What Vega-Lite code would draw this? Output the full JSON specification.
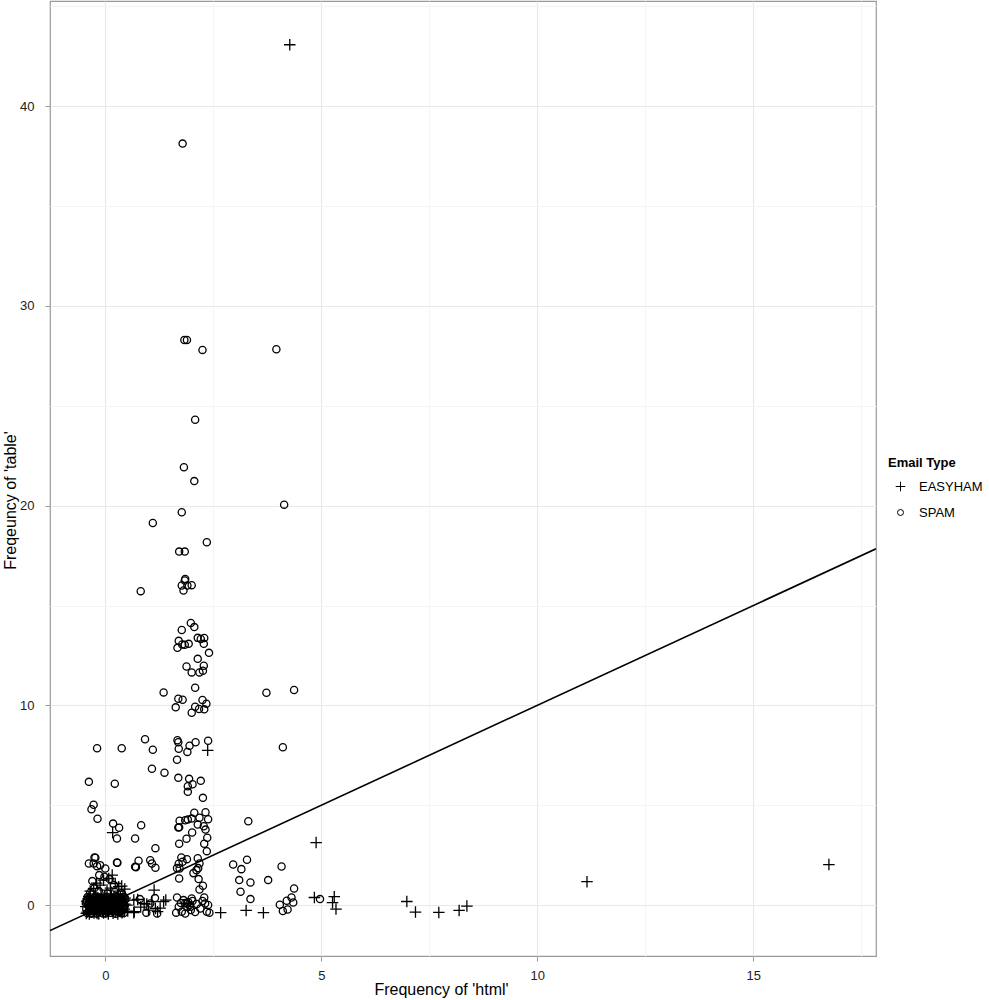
{
  "$schema": "https://vega.github.io/schema/vega-lite/v6.json",
  "autosize": "none",
  "padding": {"left": 50, "top": 1, "right": 113, "bottom": 44},
  "width": 826,
  "height": 955,
  "background": "white",
  "config": {
    "font": "Liberation Sans",
    "view": {"stroke": "#999999", "strokeWidth": 1.2},
    "axis": {
      "domain": false,
      "labelFont": "Liberation Sans",
      "labelFontSize": 13,
      "labelColor": "#222222",
      "titleFont": "Liberation Sans",
      "titleFontSize": 16,
      "titleFontWeight": "normal",
      "titleColor": "#000000",
      "tickColor": "#999999",
      "tickWidth": 1,
      "tickSize": 5,
      "gridWidth": 1
    },
    "legend": {
      "titleFont": "Liberation Sans",
      "labelFont": "Liberation Sans"
    }
  },
  "datasets": {
    "fit": [{"x": -1.28, "y": -1.28}, {"x": 17.84, "y": 17.84}],
    "emails": [
      {"x": 4.27, "y": 43.08, "type": "EASYHAM"},
      {"x": 2.37, "y": 7.75, "type": "EASYHAM"},
      {"x": 4.88, "y": 3.13, "type": "EASYHAM"},
      {"x": 4.84, "y": 0.38, "type": "EASYHAM"},
      {"x": 5.30, "y": 0.42, "type": "EASYHAM"},
      {"x": 5.26, "y": 0.12, "type": "EASYHAM"},
      {"x": 5.34, "y": -0.2, "type": "EASYHAM"},
      {"x": 6.98, "y": 0.18, "type": "EASYHAM"},
      {"x": 7.18, "y": -0.35, "type": "EASYHAM"},
      {"x": 7.72, "y": -0.37, "type": "EASYHAM"},
      {"x": 8.19, "y": -0.27, "type": "EASYHAM"},
      {"x": 8.37, "y": -0.05, "type": "EASYHAM"},
      {"x": 11.15, "y": 1.17, "type": "EASYHAM"},
      {"x": 16.75, "y": 2.03, "type": "EASYHAM"},
      {"x": 2.67, "y": -0.38, "type": "EASYHAM"},
      {"x": 3.26, "y": -0.27, "type": "EASYHAM"},
      {"x": 3.66, "y": -0.38, "type": "EASYHAM"},
      {"x": 0.17, "y": 3.63, "type": "EASYHAM"},
      {"x": 0.66, "y": 0.25, "type": "EASYHAM"},
      {"x": 0.75, "y": 0.28, "type": "EASYHAM"},
      {"x": 0.90, "y": 0.08, "type": "EASYHAM"},
      {"x": 0.96, "y": 0.05, "type": "EASYHAM"},
      {"x": 1.08, "y": 0.17, "type": "EASYHAM"},
      {"x": 1.16, "y": -0.17, "type": "EASYHAM"},
      {"x": 1.21, "y": -0.33, "type": "EASYHAM"},
      {"x": 1.35, "y": 0.17, "type": "EASYHAM"},
      {"x": 1.40, "y": 0.25, "type": "EASYHAM"},
      {"x": 0.66, "y": -0.38, "type": "EASYHAM"},
      {"x": 1.13, "y": 0.75, "type": "EASYHAM"},
      {"x": 1.27, "y": -0.15, "type": "EASYHAM"},
      {"x": 1.0, "y": -0.25, "type": "EASYHAM"},
      {"x": 0.82, "y": -0.1, "type": "EASYHAM"},
      {"x": 0.67, "y": -0.33, "type": "EASYHAM"},
      {"x": 0.5, "y": 0.0, "type": "EASYHAM"},
      {"x": 0.52, "y": -0.3, "type": "EASYHAM"},
      {"x": -0.12, "y": 1.0, "type": "EASYHAM"},
      {"x": -0.04, "y": 1.25, "type": "EASYHAM"},
      {"x": 0.08, "y": 1.33, "type": "EASYHAM"},
      {"x": 0.16, "y": 1.5, "type": "EASYHAM"},
      {"x": 0.23, "y": 1.08, "type": "EASYHAM"},
      {"x": 0.31, "y": 0.92, "type": "EASYHAM"},
      {"x": 0.38, "y": 0.95, "type": "EASYHAM"},
      {"x": -0.27, "y": 0.83, "type": "EASYHAM"},
      {"x": 0.04, "y": 0.75, "type": "EASYHAM"},
      {"x": -0.2, "y": 1.1, "type": "EASYHAM"},
      {"x": 0.12, "y": 0.85, "type": "EASYHAM"},
      {"x": 0.3, "y": 0.7, "type": "EASYHAM"},
      {"x": -0.35, "y": 0.7, "type": "EASYHAM"},
      {"x": 0.45, "y": 0.8, "type": "EASYHAM"},
      {"x": -0.37, "y": -0.45, "type": "EASYHAM"},
      {"x": -0.26, "y": -0.4, "type": "EASYHAM"},
      {"x": -0.15, "y": -0.44, "type": "EASYHAM"},
      {"x": -0.04, "y": -0.39, "type": "EASYHAM"},
      {"x": 0.07, "y": -0.45, "type": "EASYHAM"},
      {"x": 0.18, "y": -0.41, "type": "EASYHAM"},
      {"x": 0.29, "y": -0.44, "type": "EASYHAM"},
      {"x": 0.39, "y": -0.38, "type": "EASYHAM"},
      {"x": -0.39, "y": -0.28, "type": "EASYHAM"},
      {"x": -0.28, "y": -0.3, "type": "EASYHAM"},
      {"x": -0.17, "y": -0.26, "type": "EASYHAM"},
      {"x": -0.06, "y": -0.31, "type": "EASYHAM"},
      {"x": 0.05, "y": -0.27, "type": "EASYHAM"},
      {"x": 0.16, "y": -0.3, "type": "EASYHAM"},
      {"x": 0.26, "y": -0.25, "type": "EASYHAM"},
      {"x": 0.37, "y": -0.29, "type": "EASYHAM"},
      {"x": -0.45, "y": -0.08, "type": "EASYHAM"},
      {"x": -0.36, "y": -0.1, "type": "EASYHAM"},
      {"x": -0.25, "y": -0.06, "type": "EASYHAM"},
      {"x": -0.13, "y": -0.11, "type": "EASYHAM"},
      {"x": -0.02, "y": -0.07, "type": "EASYHAM"},
      {"x": 0.09, "y": -0.1, "type": "EASYHAM"},
      {"x": 0.2, "y": -0.05, "type": "EASYHAM"},
      {"x": 0.3, "y": -0.09, "type": "EASYHAM"},
      {"x": 0.4, "y": -0.06, "type": "EASYHAM"},
      {"x": -0.38, "y": 0.1, "type": "EASYHAM"},
      {"x": -0.27, "y": 0.13, "type": "EASYHAM"},
      {"x": -0.16, "y": 0.09, "type": "EASYHAM"},
      {"x": -0.05, "y": 0.12, "type": "EASYHAM"},
      {"x": 0.06, "y": 0.08, "type": "EASYHAM"},
      {"x": 0.17, "y": 0.13, "type": "EASYHAM"},
      {"x": 0.28, "y": 0.1, "type": "EASYHAM"},
      {"x": 0.39, "y": 0.12, "type": "EASYHAM"},
      {"x": -0.4, "y": 0.31, "type": "EASYHAM"},
      {"x": -0.29, "y": 0.28, "type": "EASYHAM"},
      {"x": -0.18, "y": 0.33, "type": "EASYHAM"},
      {"x": -0.07, "y": 0.29, "type": "EASYHAM"},
      {"x": 0.04, "y": 0.32, "type": "EASYHAM"},
      {"x": 0.15, "y": 0.28, "type": "EASYHAM"},
      {"x": 0.26, "y": 0.33, "type": "EASYHAM"},
      {"x": 0.37, "y": 0.3, "type": "EASYHAM"},
      {"x": 0.46, "y": 0.35, "type": "EASYHAM"},
      {"x": -0.35, "y": 0.5, "type": "EASYHAM"},
      {"x": -0.1, "y": 0.52, "type": "EASYHAM"},
      {"x": 0.12, "y": 0.48, "type": "EASYHAM"},
      {"x": 0.3, "y": 0.5, "type": "EASYHAM"},
      {"x": -0.42, "y": -0.35, "type": "EASYHAM"},
      {"x": -0.32, "y": -0.18, "type": "EASYHAM"},
      {"x": -0.21, "y": -0.35, "type": "EASYHAM"},
      {"x": -0.09, "y": -0.2, "type": "EASYHAM"},
      {"x": 0.01, "y": -0.36, "type": "EASYHAM"},
      {"x": 0.12, "y": -0.19, "type": "EASYHAM"},
      {"x": 0.23, "y": -0.34, "type": "EASYHAM"},
      {"x": 0.34, "y": -0.17, "type": "EASYHAM"},
      {"x": 0.44, "y": -0.33, "type": "EASYHAM"},
      {"x": -0.43, "y": 0.2, "type": "EASYHAM"},
      {"x": -0.33, "y": 0.02, "type": "EASYHAM"},
      {"x": -0.22, "y": 0.19, "type": "EASYHAM"},
      {"x": -0.11, "y": 0.02, "type": "EASYHAM"},
      {"x": 0.0, "y": 0.2, "type": "EASYHAM"},
      {"x": 0.11, "y": 0.01, "type": "EASYHAM"},
      {"x": 0.22, "y": 0.22, "type": "EASYHAM"},
      {"x": 0.33, "y": 0.03, "type": "EASYHAM"},
      {"x": 0.43, "y": 0.21, "type": "EASYHAM"},
      {"x": -0.38, "y": 0.42, "type": "EASYHAM"},
      {"x": -0.24, "y": 0.41, "type": "EASYHAM"},
      {"x": -0.01, "y": 0.43, "type": "EASYHAM"},
      {"x": 0.2, "y": 0.41, "type": "EASYHAM"},
      {"x": 0.41, "y": 0.44, "type": "EASYHAM"},
      {"x": -0.44, "y": -0.42, "type": "EASYHAM"},
      {"x": -0.31, "y": -0.12, "type": "EASYHAM"},
      {"x": -0.19, "y": -0.42, "type": "EASYHAM"},
      {"x": -0.08, "y": 0.05, "type": "EASYHAM"},
      {"x": 0.03, "y": -0.2, "type": "EASYHAM"},
      {"x": 0.14, "y": 0.38, "type": "EASYHAM"},
      {"x": 0.25, "y": -0.14, "type": "EASYHAM"},
      {"x": 0.35, "y": 0.4, "type": "EASYHAM"},
      {"x": 0.45, "y": 0.05, "type": "EASYHAM"},
      {"x": -0.41, "y": 0.05, "type": "EASYHAM"},
      {"x": 0.44, "y": -0.2, "type": "EASYHAM"},
      {"x": 1.79, "y": 38.13, "type": "SPAM"},
      {"x": 1.83, "y": 28.3, "type": "SPAM"},
      {"x": 1.89, "y": 28.3, "type": "SPAM"},
      {"x": 2.25, "y": 27.8, "type": "SPAM"},
      {"x": 3.96, "y": 27.83, "type": "SPAM"},
      {"x": 2.08, "y": 24.3, "type": "SPAM"},
      {"x": 1.82, "y": 21.92, "type": "SPAM"},
      {"x": 2.06, "y": 21.23, "type": "SPAM"},
      {"x": 4.14, "y": 20.05, "type": "SPAM"},
      {"x": 1.77, "y": 19.67, "type": "SPAM"},
      {"x": 1.10, "y": 19.13, "type": "SPAM"},
      {"x": 2.35, "y": 18.17, "type": "SPAM"},
      {"x": 1.71, "y": 17.7, "type": "SPAM"},
      {"x": 1.84, "y": 17.7, "type": "SPAM"},
      {"x": 1.85, "y": 16.33, "type": "SPAM"},
      {"x": 1.84, "y": 16.25, "type": "SPAM"},
      {"x": 1.77, "y": 16.0, "type": "SPAM"},
      {"x": 1.90, "y": 16.0, "type": "SPAM"},
      {"x": 2.0, "y": 16.02, "type": "SPAM"},
      {"x": 1.81, "y": 15.75, "type": "SPAM"},
      {"x": 0.82, "y": 15.72, "type": "SPAM"},
      {"x": 1.98, "y": 14.13, "type": "SPAM"},
      {"x": 2.06, "y": 13.92, "type": "SPAM"},
      {"x": 1.77, "y": 13.77, "type": "SPAM"},
      {"x": 1.70, "y": 13.23, "type": "SPAM"},
      {"x": 1.78, "y": 13.05, "type": "SPAM"},
      {"x": 1.84, "y": 13.03, "type": "SPAM"},
      {"x": 1.93, "y": 13.08, "type": "SPAM"},
      {"x": 1.67, "y": 12.88, "type": "SPAM"},
      {"x": 2.14, "y": 13.38, "type": "SPAM"},
      {"x": 2.21, "y": 13.32, "type": "SPAM"},
      {"x": 2.29, "y": 13.37, "type": "SPAM"},
      {"x": 2.28, "y": 13.08, "type": "SPAM"},
      {"x": 2.40, "y": 12.63, "type": "SPAM"},
      {"x": 2.14, "y": 12.33, "type": "SPAM"},
      {"x": 1.88, "y": 11.95, "type": "SPAM"},
      {"x": 2.28, "y": 11.98, "type": "SPAM"},
      {"x": 2.26, "y": 11.73, "type": "SPAM"},
      {"x": 2.18, "y": 11.65, "type": "SPAM"},
      {"x": 2.0, "y": 11.65, "type": "SPAM"},
      {"x": 2.08, "y": 10.88, "type": "SPAM"},
      {"x": 1.35, "y": 10.65, "type": "SPAM"},
      {"x": 3.73, "y": 10.63, "type": "SPAM"},
      {"x": 4.37, "y": 10.77, "type": "SPAM"},
      {"x": 1.69, "y": 10.33, "type": "SPAM"},
      {"x": 1.79, "y": 10.28, "type": "SPAM"},
      {"x": 1.63, "y": 9.9, "type": "SPAM"},
      {"x": 2.08, "y": 9.93, "type": "SPAM"},
      {"x": 2.17, "y": 9.82, "type": "SPAM"},
      {"x": 2.25, "y": 10.27, "type": "SPAM"},
      {"x": 2.34, "y": 10.08, "type": "SPAM"},
      {"x": 2.29, "y": 9.8, "type": "SPAM"},
      {"x": 2.0, "y": 9.63, "type": "SPAM"},
      {"x": 1.67, "y": 8.25, "type": "SPAM"},
      {"x": 1.69, "y": 8.15, "type": "SPAM"},
      {"x": 2.09, "y": 8.15, "type": "SPAM"},
      {"x": 2.38, "y": 8.23, "type": "SPAM"},
      {"x": 1.95, "y": 7.98, "type": "SPAM"},
      {"x": 1.90, "y": 7.67, "type": "SPAM"},
      {"x": 1.70, "y": 7.83, "type": "SPAM"},
      {"x": 4.11, "y": 7.9, "type": "SPAM"},
      {"x": 1.10, "y": 7.78, "type": "SPAM"},
      {"x": 1.08, "y": 6.83, "type": "SPAM"},
      {"x": 1.37, "y": 6.63, "type": "SPAM"},
      {"x": 1.66, "y": 7.28, "type": "SPAM"},
      {"x": 1.69, "y": 6.37, "type": "SPAM"},
      {"x": 1.94, "y": 6.32, "type": "SPAM"},
      {"x": 2.02, "y": 6.05, "type": "SPAM"},
      {"x": 1.91, "y": 5.95, "type": "SPAM"},
      {"x": 1.91, "y": 5.67, "type": "SPAM"},
      {"x": 2.21, "y": 6.22, "type": "SPAM"},
      {"x": 2.26, "y": 5.37, "type": "SPAM"},
      {"x": 0.92, "y": 8.3, "type": "SPAM"},
      {"x": -0.19, "y": 7.85, "type": "SPAM"},
      {"x": 0.38, "y": 7.85, "type": "SPAM"},
      {"x": -0.38, "y": 6.17, "type": "SPAM"},
      {"x": 0.22, "y": 6.08, "type": "SPAM"},
      {"x": -0.27, "y": 5.02, "type": "SPAM"},
      {"x": -0.32, "y": 4.8, "type": "SPAM"},
      {"x": -0.18, "y": 4.32, "type": "SPAM"},
      {"x": 2.06, "y": 4.62, "type": "SPAM"},
      {"x": 2.32, "y": 4.65, "type": "SPAM"},
      {"x": 2.18, "y": 4.37, "type": "SPAM"},
      {"x": 2.38, "y": 4.3, "type": "SPAM"},
      {"x": 1.72, "y": 4.22, "type": "SPAM"},
      {"x": 1.85, "y": 4.25, "type": "SPAM"},
      {"x": 1.91, "y": 4.28, "type": "SPAM"},
      {"x": 2.0, "y": 4.33, "type": "SPAM"},
      {"x": 1.69, "y": 3.88, "type": "SPAM"},
      {"x": 1.71, "y": 3.9, "type": "SPAM"},
      {"x": 2.14, "y": 4.03, "type": "SPAM"},
      {"x": 2.28, "y": 3.95, "type": "SPAM"},
      {"x": 2.32, "y": 3.78, "type": "SPAM"},
      {"x": 2.01, "y": 3.63, "type": "SPAM"},
      {"x": 1.88, "y": 3.32, "type": "SPAM"},
      {"x": 1.71, "y": 3.07, "type": "SPAM"},
      {"x": 2.29, "y": 3.07, "type": "SPAM"},
      {"x": 2.36, "y": 3.37, "type": "SPAM"},
      {"x": 2.35, "y": 2.7, "type": "SPAM"},
      {"x": 3.31, "y": 4.2, "type": "SPAM"},
      {"x": 1.16, "y": 2.85, "type": "SPAM"},
      {"x": 0.18, "y": 4.08, "type": "SPAM"},
      {"x": 0.32, "y": 3.87, "type": "SPAM"},
      {"x": 0.27, "y": 3.33, "type": "SPAM"},
      {"x": 0.69, "y": 3.33, "type": "SPAM"},
      {"x": 0.83, "y": 4.0, "type": "SPAM"},
      {"x": 1.16, "y": 1.87, "type": "SPAM"},
      {"x": 1.04, "y": 2.25, "type": "SPAM"},
      {"x": 1.08, "y": 2.08, "type": "SPAM"},
      {"x": 1.76, "y": 2.38, "type": "SPAM"},
      {"x": 1.79, "y": 2.17, "type": "SPAM"},
      {"x": 1.89, "y": 2.3, "type": "SPAM"},
      {"x": 1.66, "y": 1.85, "type": "SPAM"},
      {"x": 1.72, "y": 1.83, "type": "SPAM"},
      {"x": 1.70, "y": 2.07, "type": "SPAM"},
      {"x": 2.14, "y": 2.35, "type": "SPAM"},
      {"x": 2.18, "y": 2.08, "type": "SPAM"},
      {"x": 2.11, "y": 1.75, "type": "SPAM"},
      {"x": 2.04, "y": 1.6, "type": "SPAM"},
      {"x": 2.15, "y": 1.85, "type": "SPAM"},
      {"x": 1.71, "y": 1.33, "type": "SPAM"},
      {"x": 2.16, "y": 1.3, "type": "SPAM"},
      {"x": 2.18, "y": 0.78, "type": "SPAM"},
      {"x": 2.26, "y": 0.97, "type": "SPAM"},
      {"x": 2.96, "y": 2.03, "type": "SPAM"},
      {"x": 3.15, "y": 1.8, "type": "SPAM"},
      {"x": 3.28, "y": 2.27, "type": "SPAM"},
      {"x": 3.10, "y": 1.25, "type": "SPAM"},
      {"x": 3.36, "y": 1.13, "type": "SPAM"},
      {"x": 3.13, "y": 0.67, "type": "SPAM"},
      {"x": 3.36, "y": 0.3, "type": "SPAM"},
      {"x": 3.77, "y": 1.25, "type": "SPAM"},
      {"x": 4.08, "y": 1.93, "type": "SPAM"},
      {"x": 4.37, "y": 0.83, "type": "SPAM"},
      {"x": 4.04, "y": 0.02, "type": "SPAM"},
      {"x": 4.11, "y": -0.3, "type": "SPAM"},
      {"x": 4.20, "y": 0.22, "type": "SPAM"},
      {"x": 4.22, "y": -0.22, "type": "SPAM"},
      {"x": 4.31, "y": 0.38, "type": "SPAM"},
      {"x": 4.35, "y": 0.13, "type": "SPAM"},
      {"x": 4.97, "y": 0.3, "type": "SPAM"},
      {"x": -0.38, "y": 2.08, "type": "SPAM"},
      {"x": -0.25, "y": 2.38, "type": "SPAM"},
      {"x": -0.12, "y": 2.0, "type": "SPAM"},
      {"x": 0.0, "y": 1.83, "type": "SPAM"},
      {"x": 0.27, "y": 2.13, "type": "SPAM"},
      {"x": -0.23, "y": 2.37, "type": "SPAM"},
      {"x": -0.27, "y": 2.08, "type": "SPAM"},
      {"x": -0.19, "y": 1.95, "type": "SPAM"},
      {"x": 0.28, "y": 2.12, "type": "SPAM"},
      {"x": 0.69, "y": 1.92, "type": "SPAM"},
      {"x": 0.77, "y": 2.22, "type": "SPAM"},
      {"x": 0.71, "y": 1.9, "type": "SPAM"},
      {"x": -0.14, "y": 1.5, "type": "SPAM"},
      {"x": -0.02, "y": 1.42, "type": "SPAM"},
      {"x": 0.1, "y": 1.3, "type": "SPAM"},
      {"x": -0.3, "y": 1.2, "type": "SPAM"},
      {"x": 0.2, "y": 1.0, "type": "SPAM"},
      {"x": 1.66, "y": 0.38, "type": "SPAM"},
      {"x": 1.70, "y": -0.08, "type": "SPAM"},
      {"x": 1.64, "y": -0.38, "type": "SPAM"},
      {"x": 1.81, "y": 0.25, "type": "SPAM"},
      {"x": 1.89, "y": 0.08, "type": "SPAM"},
      {"x": 1.97, "y": -0.08, "type": "SPAM"},
      {"x": 2.0, "y": 0.33, "type": "SPAM"},
      {"x": 2.12, "y": 0.05, "type": "SPAM"},
      {"x": 2.2, "y": -0.17, "type": "SPAM"},
      {"x": 2.29, "y": 0.38, "type": "SPAM"},
      {"x": 2.31, "y": 0.08, "type": "SPAM"},
      {"x": 2.35, "y": -0.33, "type": "SPAM"},
      {"x": 2.41, "y": -0.38, "type": "SPAM"},
      {"x": 1.77, "y": -0.33, "type": "SPAM"},
      {"x": 1.85, "y": -0.42, "type": "SPAM"},
      {"x": 1.92, "y": 0.15, "type": "SPAM"},
      {"x": 1.95, "y": 0.0, "type": "SPAM"},
      {"x": 1.9, "y": -0.1, "type": "SPAM"},
      {"x": 2.02, "y": 0.2, "type": "SPAM"},
      {"x": 1.98, "y": -0.25, "type": "SPAM"},
      {"x": 1.85, "y": 0.1, "type": "SPAM"},
      {"x": 2.25, "y": 0.2, "type": "SPAM"},
      {"x": 2.38, "y": 0.0, "type": "SPAM"},
      {"x": 1.75, "y": 0.1, "type": "SPAM"},
      {"x": 2.08, "y": -0.35, "type": "SPAM"},
      {"x": 0.95, "y": -0.38, "type": "SPAM"},
      {"x": 1.04, "y": 0.08, "type": "SPAM"},
      {"x": 1.2, "y": -0.42, "type": "SPAM"},
      {"x": 0.8, "y": 0.3, "type": "SPAM"},
      {"x": 1.15, "y": 0.35, "type": "SPAM"},
      {"x": -0.42, "y": -0.4, "type": "SPAM"},
      {"x": -0.31, "y": -0.38, "type": "SPAM"},
      {"x": -0.2, "y": -0.42, "type": "SPAM"},
      {"x": -0.1, "y": -0.37, "type": "SPAM"},
      {"x": 0.02, "y": -0.41, "type": "SPAM"},
      {"x": 0.13, "y": -0.39, "type": "SPAM"},
      {"x": 0.24, "y": -0.43, "type": "SPAM"},
      {"x": 0.33, "y": -0.36, "type": "SPAM"},
      {"x": 0.43, "y": -0.4, "type": "SPAM"},
      {"x": -0.44, "y": -0.18, "type": "SPAM"},
      {"x": -0.34, "y": -0.22, "type": "SPAM"},
      {"x": -0.23, "y": -0.16, "type": "SPAM"},
      {"x": -0.12, "y": -0.2, "type": "SPAM"},
      {"x": -0.01, "y": -0.17, "type": "SPAM"},
      {"x": 0.1, "y": -0.23, "type": "SPAM"},
      {"x": 0.21, "y": -0.19, "type": "SPAM"},
      {"x": 0.31, "y": -0.15, "type": "SPAM"},
      {"x": 0.41, "y": -0.21, "type": "SPAM"},
      {"x": -0.4, "y": 0.02, "type": "SPAM"},
      {"x": -0.29, "y": -0.03, "type": "SPAM"},
      {"x": -0.18, "y": 0.04, "type": "SPAM"},
      {"x": -0.07, "y": -0.01, "type": "SPAM"},
      {"x": 0.04, "y": 0.03, "type": "SPAM"},
      {"x": 0.15, "y": -0.02, "type": "SPAM"},
      {"x": 0.26, "y": 0.01, "type": "SPAM"},
      {"x": 0.36, "y": 0.05, "type": "SPAM"},
      {"x": 0.45, "y": -0.02, "type": "SPAM"},
      {"x": -0.43, "y": 0.22, "type": "SPAM"},
      {"x": -0.33, "y": 0.18, "type": "SPAM"},
      {"x": -0.22, "y": 0.24, "type": "SPAM"},
      {"x": -0.11, "y": 0.19, "type": "SPAM"},
      {"x": 0.0, "y": 0.23, "type": "SPAM"},
      {"x": 0.11, "y": 0.17, "type": "SPAM"},
      {"x": 0.22, "y": 0.21, "type": "SPAM"},
      {"x": 0.32, "y": 0.25, "type": "SPAM"},
      {"x": 0.42, "y": 0.19, "type": "SPAM"},
      {"x": -0.41, "y": 0.41, "type": "SPAM"},
      {"x": -0.3, "y": 0.38, "type": "SPAM"},
      {"x": -0.19, "y": 0.43, "type": "SPAM"},
      {"x": -0.08, "y": 0.37, "type": "SPAM"},
      {"x": 0.03, "y": 0.42, "type": "SPAM"},
      {"x": 0.14, "y": 0.39, "type": "SPAM"},
      {"x": 0.25, "y": 0.44, "type": "SPAM"},
      {"x": 0.35, "y": 0.38, "type": "SPAM"},
      {"x": 0.44, "y": 0.4, "type": "SPAM"},
      {"x": -0.37, "y": -0.3, "type": "SPAM"},
      {"x": -0.26, "y": -0.27, "type": "SPAM"},
      {"x": -0.15, "y": -0.31, "type": "SPAM"},
      {"x": -0.05, "y": -0.26, "type": "SPAM"},
      {"x": 0.07, "y": -0.3, "type": "SPAM"},
      {"x": 0.18, "y": -0.28, "type": "SPAM"},
      {"x": 0.28, "y": -0.31, "type": "SPAM"},
      {"x": 0.38, "y": -0.27, "type": "SPAM"},
      {"x": -0.35, "y": -0.08, "type": "SPAM"},
      {"x": -0.24, "y": -0.1, "type": "SPAM"},
      {"x": -0.13, "y": -0.07, "type": "SPAM"},
      {"x": -0.02, "y": -0.09, "type": "SPAM"},
      {"x": 0.09, "y": -0.06, "type": "SPAM"},
      {"x": 0.2, "y": -0.1, "type": "SPAM"},
      {"x": 0.31, "y": -0.05, "type": "SPAM"},
      {"x": 0.41, "y": -0.09, "type": "SPAM"},
      {"x": -0.37, "y": 0.12, "type": "SPAM"},
      {"x": -0.26, "y": 0.09, "type": "SPAM"},
      {"x": -0.14, "y": 0.13, "type": "SPAM"},
      {"x": -0.03, "y": 0.1, "type": "SPAM"},
      {"x": 0.08, "y": 0.13, "type": "SPAM"},
      {"x": 0.19, "y": 0.09, "type": "SPAM"},
      {"x": 0.3, "y": 0.12, "type": "SPAM"},
      {"x": 0.4, "y": 0.08, "type": "SPAM"},
      {"x": -0.36, "y": 0.31, "type": "SPAM"},
      {"x": -0.25, "y": 0.33, "type": "SPAM"},
      {"x": -0.13, "y": 0.3, "type": "SPAM"},
      {"x": -0.02, "y": 0.32, "type": "SPAM"},
      {"x": 0.09, "y": 0.29, "type": "SPAM"},
      {"x": 0.2, "y": 0.32, "type": "SPAM"},
      {"x": 0.3, "y": 0.31, "type": "SPAM"},
      {"x": 0.4, "y": 0.3, "type": "SPAM"},
      {"x": -0.45, "y": 0.1, "type": "SPAM"},
      {"x": -0.32, "y": -0.43, "type": "SPAM"},
      {"x": -0.16, "y": 0.22, "type": "SPAM"},
      {"x": -0.05, "y": -0.42, "type": "SPAM"},
      {"x": 0.06, "y": 0.18, "type": "SPAM"},
      {"x": 0.17, "y": -0.12, "type": "SPAM"},
      {"x": 0.27, "y": 0.4, "type": "SPAM"},
      {"x": 0.37, "y": -0.41, "type": "SPAM"},
      {"x": 0.46, "y": 0.28, "type": "SPAM"},
      {"x": -0.35, "y": 0.62, "type": "SPAM"},
      {"x": -0.15, "y": 0.7, "type": "SPAM"},
      {"x": 0.05, "y": 0.58, "type": "SPAM"},
      {"x": 0.22, "y": 0.66, "type": "SPAM"},
      {"x": -0.25, "y": 0.85, "type": "SPAM"},
      {"x": 0.38, "y": 0.6, "type": "SPAM"}
    ]
  },
  "layer": [
    {
      "data": {"name": "emails"},
      "mark": {"type": "point", "filled": false, "stroke": "black", "strokeWidth": 1.3, "opacity": 1, "size": 52},
      "encoding": {
        "x": {
          "field": "x", "type": "quantitative",
          "scale": {"domain": [-1.28, 17.84], "nice": false, "zero": false},
          "axis": {
            "title": "Frequency of 'html'",
            "values": [0, 2.5, 5, 7.5, 10, 12.5, 15, 17.5],
            "labelExpr": "datum.value % 5 === 0 ? format(datum.value, 'd') : ''",
            "labelPadding": 8,
            "tickOpacity": {"condition": {"test": "datum.value % 5 === 0", "value": 1}, "value": 0},
            "gridColor": {"condition": {"test": "datum.value % 5 === 0", "value": "#e8e8e8"}, "value": "#f4f4f4"},
            "titleX": 391,
            "titleY": 38,
            "titleBaseline": "alphabetic"
          }
        },
        "y": {
          "field": "y", "type": "quantitative",
          "scale": {"domain": [-2.55, 45.27], "nice": false, "zero": false},
          "axis": {
            "title": "Freqeuncy of 'table'",
            "values": [0, 5, 10, 15, 20, 25, 30, 35, 40, 45],
            "labelExpr": "datum.value % 10 === 0 ? format(datum.value, 'd') : ''",
            "labelPadding": 11,
            "tickOpacity": {"condition": {"test": "datum.value % 10 === 0", "value": 1}, "value": 0},
            "gridColor": {"condition": {"test": "datum.value % 10 === 0", "value": "#e8e8e8"}, "value": "#f4f4f4"},
            "titleX": -40,
            "titleY": 499,
            "titleBaseline": "middle"
          }
        },
        "shape": {
          "field": "type", "type": "nominal",
          "scale": {"domain": ["EASYHAM", "SPAM"], "range": ["M-1.6,0H1.6M0,-1.6V1.6", "circle"]},
          "legend": {
            "title": "Email Type",
            "orient": "none",
            "legendX": 838,
            "legendY": 456,
            "titleFontSize": 13,
            "titleFontWeight": "bold",
            "titleColor": "#000000",
            "labelFontSize": 13,
            "labelColor": "#000000",
            "symbolSize": 36,
            "symbolOffset": 6,
            "symbolStrokeColor": "black",
            "symbolStrokeWidth": 1,
            "symbolFillColor": "transparent",
            "rowPadding": 12,
            "labelOffset": 12,
            "titlePadding": 10
          }
        }
      }
    },
    {
      "data": {"name": "fit"},
      "mark": {"type": "line", "color": "black", "strokeWidth": 1.6, "clip": true},
      "encoding": {
        "x": {"field": "x", "type": "quantitative"},
        "y": {"field": "y", "type": "quantitative"}
      }
    }
  ]
}
